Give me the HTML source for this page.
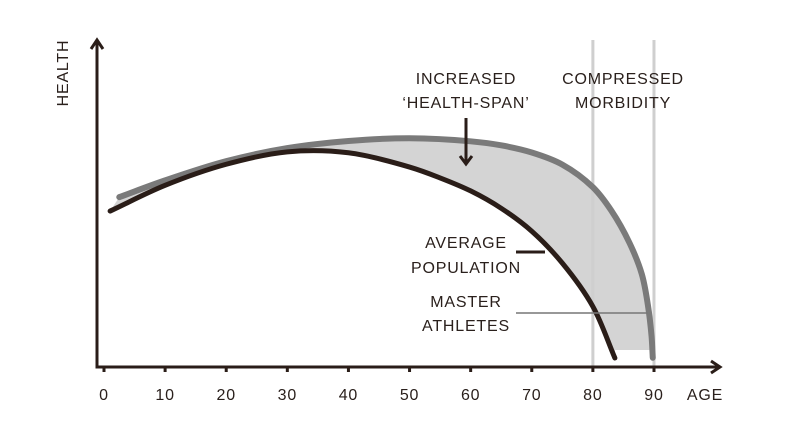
<!DOCTYPE html>
<html><head><meta charset="utf-8"><style>
body{margin:0;background:#fff}
svg text{font-family:"Liberation Sans",sans-serif;fill:#2a201c;font-size:16px;letter-spacing:0.8px}
</style></head><body>
<svg id="c" width="800" height="429" xmlns="http://www.w3.org/2000/svg">
<g id="g"></g>
</svg>
<script>
const xTicks=[0,10,20,30,40,50,60,70,80,90];
const avgAges=[1,10,20,30,40,50,55,60,65,70,75,80,83.6];
const avgHealth=[50.3,58.6,65.4,69.4,69.1,64.5,61,56.8,51.2,43.8,33.5,19.5,2.9];
const masterAges=[2.5,10,20,30,40,50,60,65,70,75,80,83,86,88,89,89.6,89.8];
const masterHealth=[54.8,60.2,66.4,70.6,72.9,73.8,72.8,71.5,69.2,65.3,58,50.5,40,30,20,10,3];
const markers=[80,90];
const X=a=>104+a*6.111;
const Y=h=>367-h*3.1;
const NS='http://www.w3.org/2000/svg';
const g=document.getElementById('g');
function el(t,at,txt){const e=document.createElementNS(NS,t);for(const k in at)e.setAttribute(k,at[k]);if(txt!==undefined)e.textContent=txt;g.appendChild(e);return e;}
function pts(A,H){return A.map((a,i)=>[X(a),Y(H[i])]);}
function dist(a,b){return Math.pow(Math.hypot(a[0]-b[0],a[1]-b[1]),0.5);}
function smooth(p){let d='M'+p[0][0].toFixed(2)+','+p[0][1].toFixed(2);
for(let i=0;i<p.length-1;i++){const p1=p[i],p2=p[i+1],p0=p[i-1]||[2*p1[0]-p2[0],2*p1[1]-p2[1]],p3=p[i+2]||[2*p2[0]-p1[0],2*p2[1]-p1[1]];
const d1=dist(p0,p1),d2=dist(p1,p2),d3=dist(p2,p3);
const c1=[0,1].map(k=>(d1*d1*p2[k]-d2*d2*p0[k]+(2*d1*d1+3*d1*d2+d2*d2)*p1[k])/(3*d1*(d1+d2)));
const c2=[0,1].map(k=>(d3*d3*p1[k]-d2*d2*p3[k]+(2*d3*d3+3*d3*d2+d2*d2)*p2[k])/(3*d3*(d3+d2)));
d+=' C'+c1[0].toFixed(2)+','+c1[1].toFixed(2)+' '+c2[0].toFixed(2)+','+c2[1].toFixed(2)+' '+p2[0].toFixed(2)+','+p2[1].toFixed(2);}return d;}
function smoothRev(p){return smooth(p.slice().reverse()).replace(/^M/,' L');}
const ap=pts(avgAges,avgHealth),mp=pts(masterAges,masterHealth);
let e=el('path',{d:smooth(mp)+' L'+mp[mp.length-1][0]+','+Y(5.5)+' L'+ap[ap.length-1][0]+','+Y(5.5)+smoothRev(ap)+' Z',fill:'#d4d4d4'});


markers.forEach(m=>{const l=el('line',{x1:X(m),x2:X(m),y1:40,y2:367,stroke:'#cfcfcf','stroke-width':3});

});
e=el('path',{d:smooth(mp),fill:'none',stroke:'#7a7a7a','stroke-width':6,'stroke-linecap':'round'});


e=el('path',{d:smooth(ap),fill:'none',stroke:'#2a1d18','stroke-width':5,'stroke-linecap':'round'});


e=el('path',{d:'M97,42 L97,367 L718,367',fill:'none',stroke:'#2a1d18','stroke-width':3});


el('path',{d:'M91,49 L97,40 L103,49',fill:'none',stroke:'#2a1d18','stroke-width':3});
el('path',{d:'M711,361 L720,367 L711,373',fill:'none',stroke:'#2a1d18','stroke-width':3});
xTicks.forEach(t=>{el('line',{x1:X(t),x2:X(t),y1:367,y2:372,stroke:'#2a1d18','stroke-width':3});
const tx=el('text',{x:X(t),y:400,'text-anchor':'middle'},t);

});
e=el('text',{x:705,y:400,'text-anchor':'middle'},'AGE');


e=el('text',{x:0,y:0,'text-anchor':'middle',transform:'translate(68,73) rotate(-90)'},'HEALTH');


[['INCREASED',466,84],['‘HEALTH-SPAN’',466,108],['COMPRESSED',623,84],['MORBIDITY',623,108],['AVERAGE',466,248],['POPULATION',466,273],['MASTER',466,307],['ATHLETES',466,331]].forEach(a=>{
const t=el('text',{x:a[1],y:a[2],'text-anchor':'middle'},a[0]);

});
el('line',{x1:466,x2:466,y1:118,y2:163,stroke:'#2a1d18','stroke-width':3});
el('path',{d:'M460,156 L466,164 L472,156',fill:'none',stroke:'#2a1d18','stroke-width':3});
el('line',{x1:516,x2:545,y1:252,y2:252,stroke:'#2a1d18','stroke-width':3});
el('line',{x1:516,x2:648,y1:313,y2:313,stroke:'#777','stroke-width':1.5});
</script>
</body></html>
